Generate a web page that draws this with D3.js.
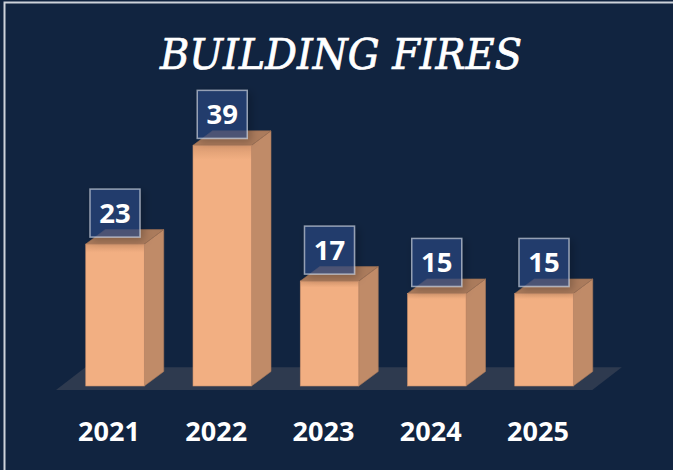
<!DOCTYPE html>
<meta charset="utf-8">
<html>
<head>
<title>Building Fires</title>
<style>
  html, body { margin: 0; padding: 0; background: #112440; }
  svg { display: block; }
  .title { fill: #ffffff; stroke: #ffffff; stroke-width: 0.7px; font-family: "DejaVu Serif Condensed", "DejaVu Serif", serif; font-style: italic; font-size: 42px; }
  .year { fill: #ffffff; font-family: "Open Sans", sans-serif; font-weight: 700; font-size: 27px; text-anchor: middle; }
  .val { fill: #ffffff; font-family: "Open Sans", sans-serif; font-weight: 700; font-size: 27.5px; text-anchor: middle; }
</style>
</head>
<body>
<svg width="673" height="470"></svg>

<script src="https://d3js.org/d3.v7.min.js"></script>
<script>

// data
var years = ["2021", "2022", "2023", "2024", "2025"];
var fires = [23, 39, 17, 15, 15];
var chartTitle = "BUILDING FIRES";

var svg = d3.select("svg");

// frame
svg.append("rect")
    .attr("width", 673).attr("height", 470)
    .attr("fill", "#112440");
svg.append("rect")
    .attr("x", 4.5).attr("y", 2.5)
    .attr("width", 680).attr("height", 480)
    .attr("fill", "none")
    .attr("stroke", "#cdd2da")
    .attr("stroke-width", 2);

svg.append("text")
    .attr("class", "title")
    .attr("x", 341)
    .attr("y", 68.5)
    .attr("text-anchor", "middle")
    .attr("textLength", 362)
    .attr("lengthAdjust", "spacingAndGlyphs")
    .text(chartTitle);

var x = d3.scaleBand().domain(years).range([37, 622]).padding(0.4545),
    y = d3.scaleLinear().domain([0, 40]).range([386, 139.2]);

// 3d depth offset
var dx = 19.5, dy = 14.5;

var defs = svg.append("defs");
var sh = defs.append("filter").attr("id", "shadow")
    .attr("x", "-30%").attr("y", "-30%").attr("width", "170%").attr("height", "170%");
sh.append("feDropShadow")
    .attr("dx", 3).attr("dy", 3).attr("stdDeviation", 4)
    .attr("flood-color", "#000").attr("flood-opacity", 0.35);

var grad = defs.append("linearGradient").attr("id", "frontShade")
    .attr("x1", 0).attr("y1", 0).attr("x2", 0).attr("y2", 1);
grad.append("stop").attr("offset", "0%").attr("stop-color", "#d99a70");
grad.append("stop").attr("offset", "6%").attr("stop-color", "#f2af82");
grad.append("stop").attr("offset", "100%").attr("stop-color", "#f2af82");

// floor
var fx0 = x.range()[0] + 19, fx1 = x.range()[1] - 29.7, fy = y(0) + 4;
var fdx = 29.5, fdy = 22.7;
svg.append("polygon")
    .attr("points", [[fx0, fy], [fx1, fy], [fx1 + fdx, fy - fdy], [fx0 + fdx, fy - fdy]].join(" "))
    .attr("fill", "#2e3a4f");

var data = years.map(function(d, i) { return {year: d, val: fires[i]}; });
var w = x.bandwidth();

var bars = svg.selectAll(".bar").data(data).enter().append("g").attr("class", "bar");

// right face
bars.append("polygon")
    .attr("points", function(d) {
      var x0 = x(d.year) + w, yt = y(d.val), yb = y(0);
      return [[x0, yt], [x0 + dx, yt - dy], [x0 + dx, yb - dy], [x0, yb]].join(" ");
    })
    .attr("fill", "#c08b68")
    .attr("stroke", "#a8785a").attr("stroke-width", 0.6);

// top face
bars.append("polygon")
    .attr("points", function(d) {
      var x0 = x(d.year), yt = y(d.val);
      return [[x0, yt], [x0 + dx, yt - dy], [x0 + w + dx, yt - dy], [x0 + w, yt]].join(" ");
    })
    .attr("fill", "#ab7b5c")
    .attr("stroke", "#9a6e52").attr("stroke-width", 0.6);

// front face
bars.append("rect")
    .attr("x", function(d) { return x(d.year); })
    .attr("y", function(d) { return y(d.val); })
    .attr("width", w)
    .attr("height", function(d) { return y(0) - y(d.val); })
    .attr("fill", "url(#frontShade)")
    .attr("stroke", "#c98f6b").attr("stroke-width", 0.6);

// value boxes
var bw = 50, bh = 48;
var labels = svg.selectAll(".lab").data(data).enter().append("g").attr("class", "lab");
labels.append("rect")
    .attr("x", function(d) { return x(d.year) + w / 2 - bw / 2; })
    .attr("y", function(d) { return y(d.val) - 7 - bh; })
    .attr("width", bw).attr("height", bh)
    .attr("fill", "rgba(42,72,132,0.65)")
    .attr("stroke", "rgba(200,206,218,0.7)")
    .attr("stroke-width", 1.5)
    .attr("filter", "url(#shadow)");
labels.append("text")
    .attr("class", "val")
    .attr("x", function(d) { return x(d.year) + w / 2; })
    .attr("y", function(d) { return y(d.val) - 7 - bh / 2 + 10; })
    .text(function(d) { return d.val; });

// year axis labels
svg.selectAll(".year").data(years).enter().append("text")
    .attr("class", "year")
    .attr("x", function(d) { return x(d) + w / 2 - 6; })
    .attr("y", 441)
    .text(function(d) { return d; });

</script>
</body>
</html>
